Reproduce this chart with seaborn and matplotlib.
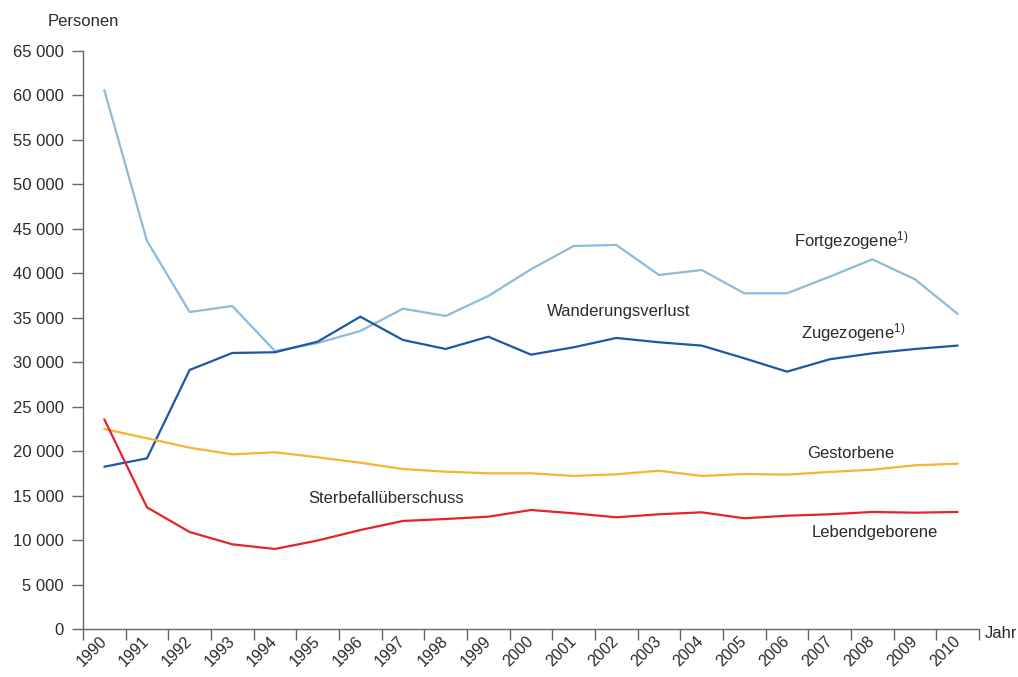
import numpy as np
import pandas as pd
import seaborn as sns
import matplotlib
matplotlib.use('Agg')
import matplotlib.pyplot as plt
from matplotlib.ticker import FuncFormatter, FixedLocator

years = list(range(1990, 2011))

fortgezogene = [60600, 43640, 35650, 36320, 31260, 32160, 33510, 36020, 35200, 37450, 40450,
                43070, 43190, 39810, 40370, 37750, 37750, 39620, 41570, 39320, 35430]
zugezogene = [18250, 19190, 29130, 31040, 31120, 32310, 35120, 32500, 31490, 32870, 30850,
              31680, 32730, 32240, 31870, 30440, 28940, 30330, 31000, 31490, 31870]
gestorbene = [22490, 21450, 20390, 19640, 19870, 19310, 18700, 17990, 17690, 17510, 17510,
              17210, 17400, 17800, 17210, 17430, 17360, 17660, 17920, 18410, 18590]
lebendgeborene = [23580, 13680, 10910, 9520, 9000, 9950, 11130, 12150, 12370, 12630, 13380,
                  13010, 12560, 12900, 13120, 12450, 12740, 12900, 13160, 13080, 13160]

series_names = ["Fortgezogene", "Zugezogene", "Gestorbene", "Lebendgeborene"]
colors = ["#8dbbd8", "#1c58a4", "#f9b233", "#e6232a"]

df = pd.DataFrame({
    "idx": list(range(len(years))) * 4,
    "wert": fortgezogene + zugezogene + gestorbene + lebendgeborene,
    "reihe": [n for n in series_names for _ in years],
})

sns.set_style("white")
plt.rcParams['font.family'] = ['Liberation Sans', 'DejaVu Sans']
plt.rcParams['mathtext.default'] = 'regular'
text_color = "#2b2b2b"

fig = plt.figure(figsize=(10.18, 6.77), dpi=100)
ax = fig.add_axes([0.0815, 0.0709, 0.8802, 0.8538])

sns.lineplot(data=df, x="idx", y="wert", hue="reihe", palette=colors,
             hue_order=series_names, linewidth=1.6, legend=False, ax=ax)

ax.set_xlim(-0.5, len(years) - 0.5)
ax.set_ylim(0, 65000)
ax.set_xlabel("")
ax.set_ylabel("")

# tick lines on the year borders, labels in the middle
ax.xaxis.set_major_locator(FixedLocator(np.arange(-0.5, len(years), 1.0)))
ax.xaxis.set_minor_locator(FixedLocator(np.arange(len(years))))
ax.set_xticklabels([])
ax.set_xticklabels([str(y) for y in years], minor=True, rotation=45,
                   ha="right", va="center", rotation_mode="anchor",
                   fontsize=11.5, color=text_color)
ax.tick_params(axis="x", which="major", length=8, width=1, color="#666666", direction="out")
ax.tick_params(axis="x", which="minor", length=0, pad=7)

ax.set_yticks(np.arange(0, 65001, 5000))
ax.yaxis.set_major_formatter(FuncFormatter(lambda v, p: f"{int(v):,}".replace(",", " ")))
ax.tick_params(axis="y", length=8, width=1, color="#666666", direction="out",
               labelsize=12, labelcolor=text_color, pad=6)
ax.tick_params(left=True, bottom=True)

for s in ["top", "right"]:
    ax.spines[s].set_visible(False)
for s in ["left", "bottom"]:
    ax.spines[s].set_color("#666666")
    ax.spines[s].set_linewidth(1)

fig.text(48 / 1018, 1 - 22 / 677, "Personen", fontsize=12, color=text_color, va="center")
fig.text(985 / 1018, 1 - 633 / 677, "Jahr", fontsize=12, color=text_color, va="center")

labels = [
    (17.5, 43700, "Fortgezogene$^{1)}$"),
    (12.05, 35700, "Wanderungsverlust"),
    (17.55, 33300, "Zugezogene$^{1)}$"),
    (17.5, 19750, "Gestorbene"),
    (6.6, 14700, "Sterbefallüberschuss"),
    (18.05, 10900, "Lebendgeborene"),
]
for x, y, t in labels:
    ax.text(x, y, t, fontsize=12, color=text_color, ha="center", va="center")

plt.savefig("out.png", dpi=100)
